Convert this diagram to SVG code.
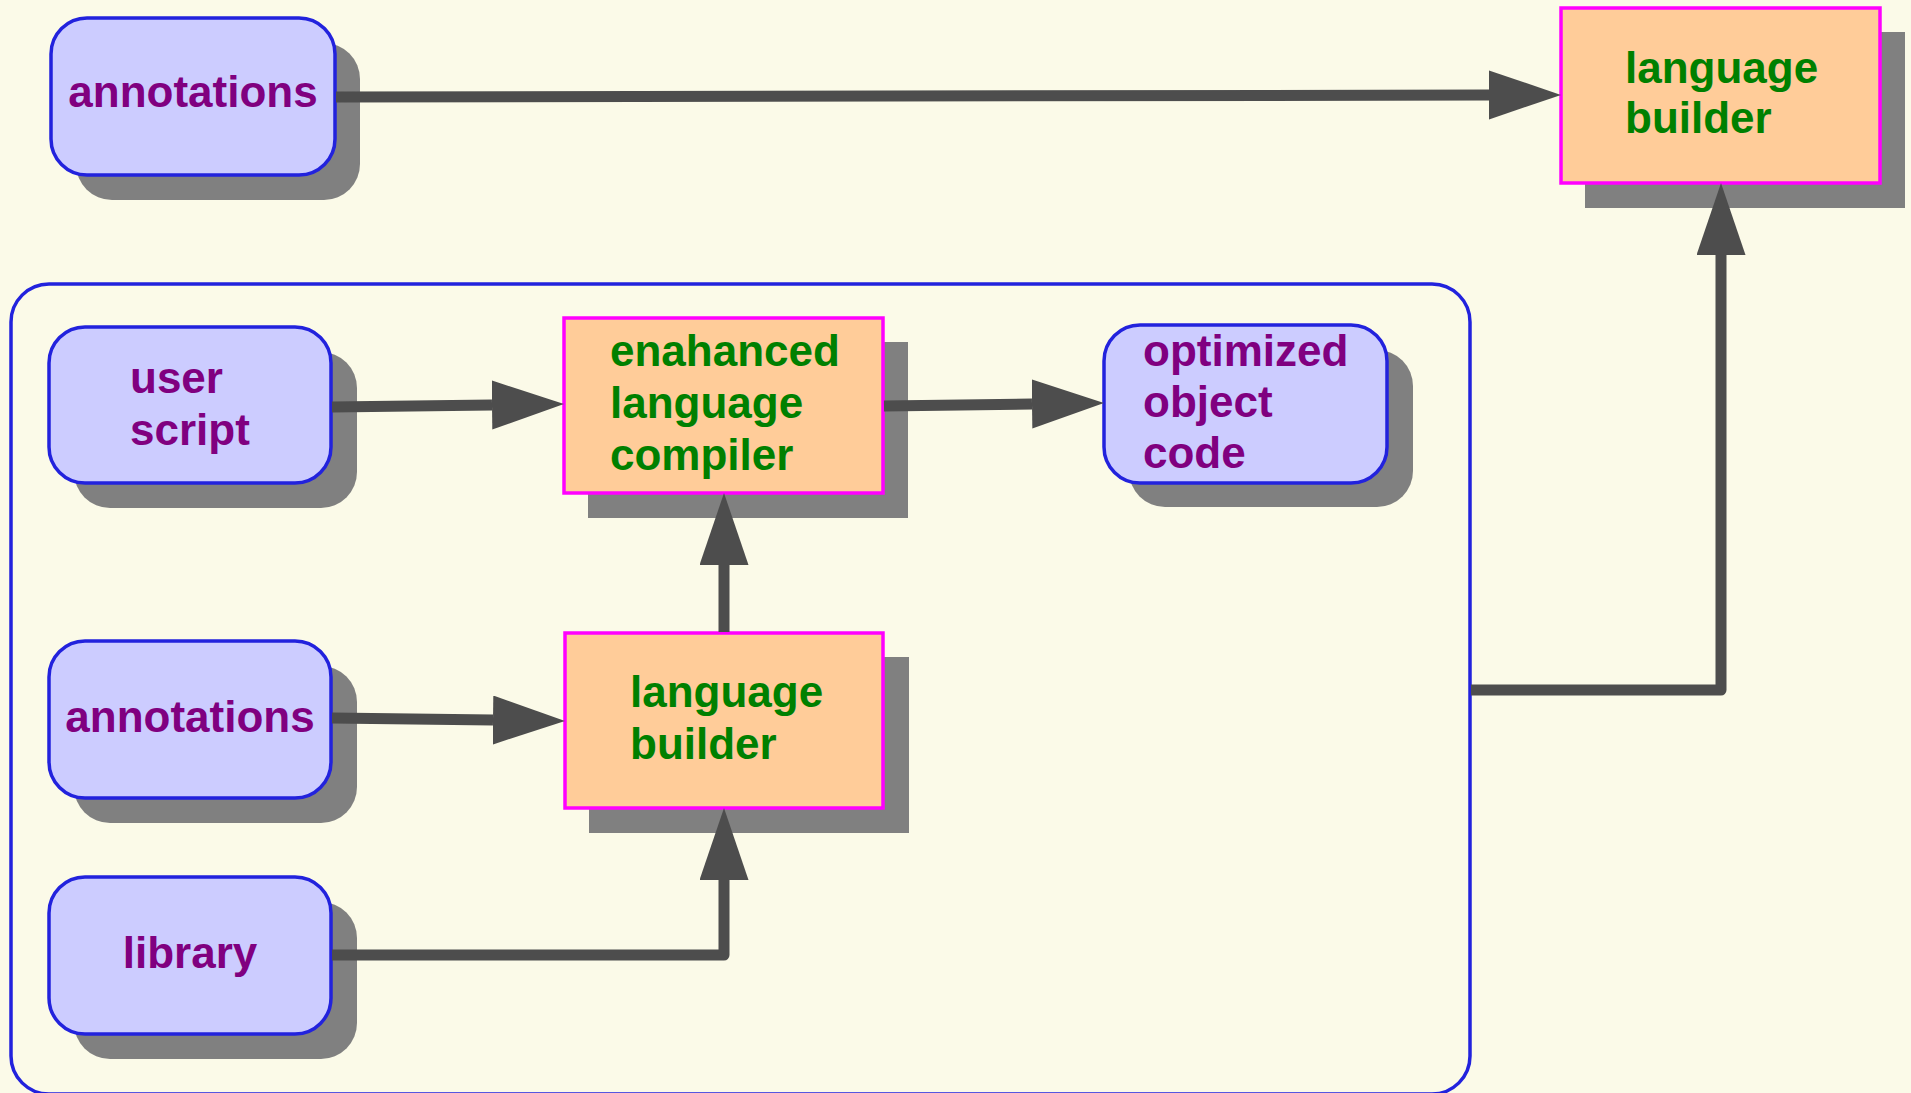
<svg xmlns="http://www.w3.org/2000/svg" width="1911" height="1093" viewBox="0 0 1911 1093">
  <defs>
    <style>
      .bg { fill: #fbfae8; }
      .shadow { fill: #808080; }
      .rnode { fill: #ccccff; stroke: #2222dd; stroke-width: 3.5; }
      .snode { fill: #ffcc99; stroke: #ff00ff; stroke-width: 3.5; }
      .container { fill: none; stroke: #2222dd; stroke-width: 3.5; }
      .lbl { font-family: "Liberation Sans", Arial, sans-serif; font-weight: bold; font-size: 44px; }
      .purple { fill: #800080; }
      .green { fill: #008000; }
      .edge { fill: none; stroke: #4d4d4d; stroke-width: 11; stroke-linejoin: round; }
    </style>
    <marker id="arrow" markerUnits="userSpaceOnUse" markerWidth="74" markerHeight="50" refX="0" refY="24.5" orient="auto">
      <path d="M0,0 L72,24.5 L0,49 Z" fill="#4d4d4d"/>
    </marker>
  </defs>

  <rect class="bg" x="0" y="0" width="1911" height="1093"/>

  <g id="container">
    <rect class="container" x="11" y="284" width="1459" height="810" rx="38" ry="38"/>
  </g>

  <g id="node-annotations-top">
    <rect class="shadow" x="76" y="43" width="284" height="157" rx="36" ry="36"/>
    <rect class="rnode" x="51" y="18" width="284" height="157" rx="36" ry="36"/>
    <text class="lbl purple" x="193" y="107" text-anchor="middle">annotations</text>
  </g>

  <g id="node-language-builder-top">
    <rect class="shadow" x="1585" y="32" width="320" height="176"/>
    <rect class="snode" x="1561" y="8" width="319" height="175"/>
    <text class="lbl green" x="1625" y="83">language</text>
    <text class="lbl green" x="1625" y="133">builder</text>
  </g>

  <g id="node-user-script">
    <rect class="shadow" x="74" y="352" width="283" height="156" rx="36" ry="36"/>
    <rect class="rnode" x="49" y="327" width="282" height="156" rx="36" ry="36"/>
    <text class="lbl purple" x="130" y="393">user</text>
    <text class="lbl purple" x="130" y="445">script</text>
  </g>

  <g id="node-compiler">
    <rect class="shadow" x="588" y="342" width="320" height="176"/>
    <rect class="snode" x="564" y="318" width="319" height="175"/>
    <text class="lbl green" x="610" y="366">enahanced</text>
    <text class="lbl green" x="610" y="418">language</text>
    <text class="lbl green" x="610" y="470">compiler</text>
  </g>

  <g id="node-optimized">
    <rect class="shadow" x="1129" y="350" width="284" height="157" rx="36" ry="36"/>
    <rect class="rnode" x="1104" y="325" width="283" height="158" rx="36" ry="36"/>
    <text class="lbl purple" x="1143" y="366">optimized</text>
    <text class="lbl purple" x="1143" y="417">object</text>
    <text class="lbl purple" x="1143" y="468">code</text>
  </g>

  <g id="node-annotations">
    <rect class="shadow" x="74" y="666" width="283" height="157" rx="36" ry="36"/>
    <rect class="rnode" x="49" y="641" width="282" height="157" rx="36" ry="36"/>
    <text class="lbl purple" x="190" y="732" text-anchor="middle">annotations</text>
  </g>

  <g id="node-language-builder">
    <rect class="shadow" x="589" y="657" width="320" height="176"/>
    <rect class="snode" x="565" y="633" width="318" height="175"/>
    <text class="lbl green" x="630" y="707">language</text>
    <text class="lbl green" x="630" y="759">builder</text>
  </g>

  <g id="node-library">
    <rect class="shadow" x="74" y="902" width="283" height="157" rx="36" ry="36"/>
    <rect class="rnode" x="49" y="877" width="282" height="157" rx="36" ry="36"/>
    <text class="lbl purple" x="190" y="968" text-anchor="middle">library</text>
  </g>

  <g id="connectors">
    <path class="edge" d="M336,97 L1489,95" marker-end="url(#arrow)"/>
    <path class="edge" d="M332,407 L492,405" marker-end="url(#arrow)"/>
    <path class="edge" d="M884,406 L1032,404" marker-end="url(#arrow)"/>
    <path class="edge" d="M332,718 L493,720" marker-end="url(#arrow)"/>
    <path class="edge" d="M724,632 L724,565" marker-end="url(#arrow)"/>
    <path class="edge" d="M332,955 L724,955 L724,880" marker-end="url(#arrow)"/>
    <path class="edge" d="M1471,690 L1721,690 L1721,255" marker-end="url(#arrow)"/>
  </g>
</svg>
